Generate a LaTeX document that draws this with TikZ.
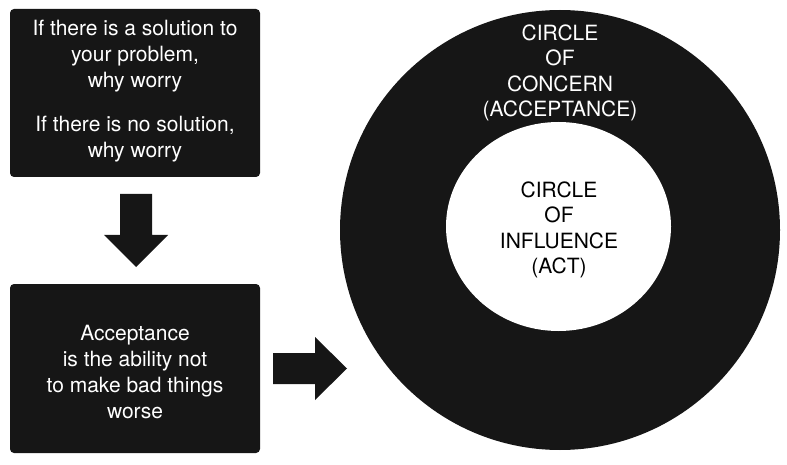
\documentclass[tikz,border=0pt]{standalone}
\usepackage{fontspec}
\setmainfont{TeX Gyre Heros}
\usetikzlibrary{shapes.geometric}
\definecolor{ink}{RGB}{22,22,22}
\begin{document}
\begin{tikzpicture}[x=1pt,y=-1pt,
  blackbox/.style={fill=ink,rounded corners=4pt,minimum width=250pt,inner sep=0pt},
  boxtext/.style={align=center,text=white,font=\fontsize{21}{26}\selectfont,inner sep=0pt},
  ringtext/.style={align=center,font=\fontsize{21}{25.5}\selectfont,inner sep=0pt},
  blockarrow/.style={fill=ink}]
\useasboundingbox (0,0) rectangle (787,465);
% boxes
\node[blackbox,minimum height=168pt] (top) at (135,93) {};
\node[boxtext] (toptext) at (135,91)
  {If there is a solution to\\your problem,\\why worry\\[18pt]If there is no solution,\\why worry};
\node[blackbox,minimum height=169pt] (bottom) at (135,368.5) {};
\node[boxtext] (bottomtext) at (135,372)
  {Acceptance\\is the ability not\\to make bad things\\worse};
% circles
\node[circle,fill=ink,minimum size=440pt,inner sep=0pt] (concern) at (560,230) {};
\node[ellipse,fill=white,minimum width=225pt,minimum height=209pt,inner sep=0pt] (influence) at (558.5,226.5) {};
\node[ringtext,text=white] (concerntext) at (560,73) {CIRCLE\\OF\\CONCERN\\(ACCEPTANCE)};
\node[ringtext,text=black] (influencetext) at (559,230) {CIRCLE\\OF\\INFLUENCE\\(ACT)};
% down arrow
\fill[blockarrow] (120,194) -- (152,194) -- (152,235) -- (168,235) -- (136,267) -- (104,235) -- (120,235) -- cycle;
% right arrow
\fill[blockarrow] (273,353) -- (315,353) -- (315,337) -- (347,368.5) -- (315,400) -- (315,384) -- (273,384) -- cycle;
\end{tikzpicture}
\end{document}
